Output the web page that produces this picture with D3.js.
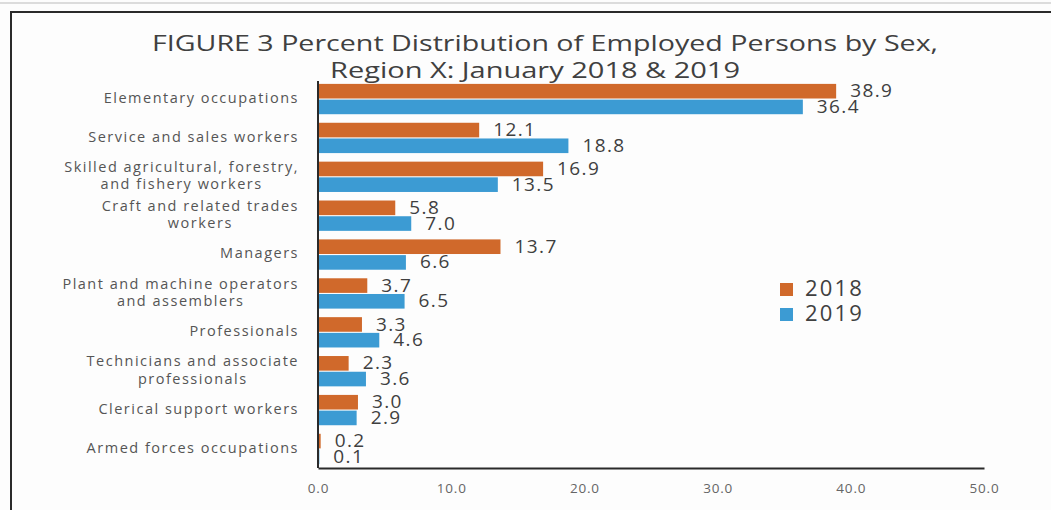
<!DOCTYPE html>
<html>
<head>
<meta charset="utf-8">
<script src="https://cdn.jsdelivr.net/npm/d3@7"></script>
<style>
  html, body { margin: 0; padding: 0; background: #fdfdfd; }
  svg { display: block; }
</style>
</head>
<body>
<svg id="chart" width="1051" height="510"></svg>
<script>
// Occupation groups, top to bottom (line breaks mark wrapped labels)
const categories = [
  "Elementary occupations",
  "Service and sales workers",
  "Skilled agricultural, forestry,\nand fishery workers",
  "Craft and related trades\nworkers",
  "Managers",
  "Plant and machine operators\nand assemblers",
  "Professionals",
  "Technicians and associate\nprofessionals",
  "Clerical support workers",
  "Armed forces occupations"
];
const values2018 = [38.9, 12.1, 16.9, 5.8, 13.7, 3.7, 3.3, 2.3, 3.0, 0.2];
const values2019 = [36.4, 18.8, 13.5, 7.0, 6.6, 6.5, 4.6, 3.6, 2.9, 0.1];
const seriesNames = ["2018", "2019"];
const xTicks = [0, 10, 20, 30, 40, 50];
const titleLines = [
  "FIGURE 3 Percent Distribution of Employed Persons by Sex,",
  "Region X: January 2018 & 2019"
];

const colors = { "2018": "#d0692b", "2019": "#3c9bd3" };
const font = "'Open Sans', 'DejaVu Sans', sans-serif";

const svg = d3.select("#chart");

// frame around the figure
svg.append("line").attr("x1", 0).attr("x2", 1051).attr("y1", 3).attr("y2", 3)
  .attr("stroke", "#bbb").attr("stroke-width", 1);
svg.append("path")
  .attr("d", "M11,510 V12 H1051")
  .attr("fill", "none").attr("stroke", "#2a2a2a").attr("stroke-width", 2);

// title
const titleWidths = [786, 410];
const titleY = [45, 72];
titleLines.forEach((t, i) => {
  svg.append("text")
    .attr("x", i === 0 ? 545 : 535).attr("y", titleY[i])
    .attr("text-anchor", "middle").attr("dominant-baseline", "middle")
    .attr("font-family", font).attr("font-size", 22).attr("fill", "#404040")
    .attr("textLength", titleWidths[i]).attr("lengthAdjust", "spacingAndGlyphs")
    .text(t);
});

// scales
const x = d3.scaleLinear().domain([0, 50]).range([318, 984]);
const y = d3.scaleBand().domain(d3.range(categories.length)).range([80, 468])
  .paddingInner(0.22).paddingOuter(0.1);
const ySub = d3.scaleBand().domain(seriesNames).range([0, y.bandwidth()]).paddingInner(0.07);

const data = categories.map((c, i) => ({
  i, label: c,
  vals: [{ s: "2018", v: values2018[i] }, { s: "2019", v: values2019[i] }]
}));

// bars
const groups = svg.append("g").selectAll("g").data(data).join("g")
  .attr("transform", d => `translate(0,${y(d.i)})`);

groups.selectAll("rect").data(d => d.vals).join("rect")
  .attr("x", x(0))
  .attr("y", d => ySub(d.s))
  .attr("width", d => x(d.v) - x(0))
  .attr("height", ySub.bandwidth())
  .attr("fill", d => colors[d.s]);

// value labels
groups.selectAll("text.val").data(d => d.vals).join("text")
  .attr("class", "val")
  .attr("x", d => x(d.v) + 14)
  .attr("y", d => ySub(d.s) + ySub.bandwidth() / 2 + 1)
  .attr("dominant-baseline", "middle")
  .attr("font-family", font).attr("font-size", 19).attr("fill", "#3f3f3f")
  .attr("letter-spacing", 1.4)
  .text(d => d.v.toFixed(1));

// category labels, wrapped lines centred as a block
const labelRight = 299;
const catG = svg.append("g");
data.forEach(d => {
  const lines = d.label.split("\n");
  const cy = y(d.i) + y.bandwidth() / 2;
  const g = catG.append("g");
  const texts = lines.map((ln, k) => g.append("text")
    .attr("y", cy + (k - (lines.length - 1) / 2) * 17.5)
    .attr("dominant-baseline", "middle")
    .attr("font-family", font).attr("font-size", 14.5).attr("fill", "#555")
    .attr("letter-spacing", 1.5)
    .text(ln));
  const widths = texts.map(t => t.node().getComputedTextLength());
  const maxW = d3.max(widths);
  const cx = labelRight - maxW / 2;
  texts.forEach(t => t.attr("x", cx).attr("text-anchor", "middle"));
});

// axes
svg.append("line").attr("x1", x(0)).attr("x2", x(0)).attr("y1", 81).attr("y2", 468)
  .attr("stroke", "#2a2a2a").attr("stroke-width", 2);
const xAxis = svg.append("g").attr("transform", "translate(0,468)")
  .call(d3.axisBottom(x).tickValues(xTicks).tickFormat(d3.format(".1f")).tickSize(0).tickPadding(15));
xAxis.select(".domain").attr("stroke", "#2a2a2a").attr("stroke-width", 2);
xAxis.selectAll("text").attr("font-family", font).attr("font-size", 13.5).attr("fill", "#666")
  .attr("letter-spacing", 0.8);

// legend
const legend = svg.append("g").attr("transform", "translate(780,283)");
seriesNames.forEach((s, i) => {
  legend.append("rect").attr("x", 0).attr("y", i * 25).attr("width", 13).attr("height", 13)
    .attr("fill", colors[s]);
  legend.append("text").attr("x", 25).attr("y", i * 25 + 7)
    .attr("dominant-baseline", "middle")
    .attr("font-family", font).attr("font-size", 22).attr("fill", "#404040")
    .attr("letter-spacing", 2.2)
    .text(s);
});
</script>
</body>
</html>
